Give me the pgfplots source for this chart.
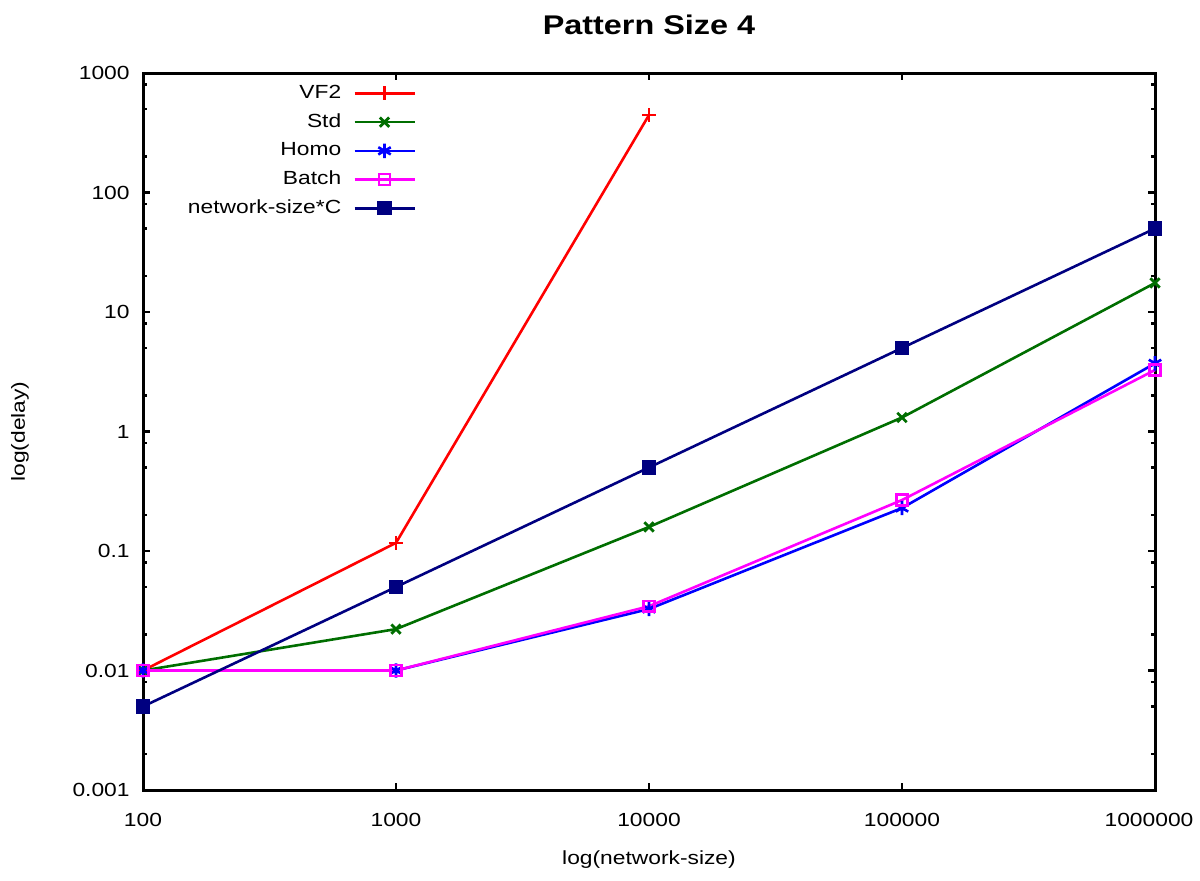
\documentclass[border=0pt]{standalone}
\usepackage{pgfplots}
\pgfplotsset{compat=1.18}
\usepackage{fontspec}
\setmainfont{Liberation Sans}[FakeStretch=1.2]
\definecolor{stdgreen}{RGB}{0,110,0}
\definecolor{navyc}{RGB}{0,0,128}
\definecolor{magc}{RGB}{255,0,255}
\definecolor{bluec}{RGB}{0,0,255}
\definecolor{redc}{RGB}{255,0,0}
\begin{document}
\begin{tikzpicture}
\useasboundingbox (0pt,0pt) rectangle (600pt,440pt);
\begin{axis}[
  at={(71.5pt,45pt)}, anchor=south west,
  scale only axis, width=506pt, height=358.5pt,
  xmode=log, ymode=log,
  xmin=100, xmax=1000000, ymin=0.001, ymax=1000,
  clip=false,
  axis line style={line width=1.5pt},
  xtick={100,1000,10000,100000,1000000},
  xticklabels={100,1000,10000,100000,{\hspace*{-3pt}1000000\hspace*{3pt}}},
  ytick={0.001,0.01,0.1,1,10,100,1000},
  yticklabels={0.001,0.01,0.1,1,10,100,1000},
  xminorticks=false,
  minor ytick={0.002,0.005,0.008,0.02,0.05,0.08,0.2,0.5,0.8,2,5,8,20,50,80,200,500,800},
  tick align=inside,
  major tick length=3.5pt, minor tick length=2pt,
  every tick/.style={line width=1.1pt, black},
  /pgf/number format/assume math mode=true,
  tick label style={font=\fontsize{9.5}{11}\selectfont},
  xticklabel style={anchor=center, inner sep=0pt, yshift=-15pt},
  yticklabel style={anchor=east, inner sep=0pt, xshift=-6.5pt},
  title={\fontsize{13.5}{16}\selectfont\bfseries Pattern Size 4},
  title style={at={(axis description cs:0.5,1.05)}, anchor=center},
  xlabel={log(network-size)},
  ylabel={log(delay)},
  label style={font=\fontsize{9.5}{11}\selectfont},
  xlabel style={at={(axis description cs:0.5,-0.0976)}, anchor=center},
  ylabel style={at={(axis description cs:-0.1215,0.5)}, anchor=center},
  legend cell align=right,
  legend plot pos=right,
  legend style={draw=none, fill=none, inner sep=0pt,
    at={(axis description cs:0.270,0.9916)}, anchor=north east,
    font=\fontsize{9.5}{11}\selectfont, row sep=0.35pt, column sep=3.5pt,
    nodes={text height=7pt, text depth=2pt, inner sep=2.5pt}},
  legend image code/.code={\draw[mark repeat=2, mark phase=2] plot coordinates {(0pt,0pt)(15pt,0pt)(30pt,0pt)};},
]
\addplot[redc, line width=1.3pt, mark=+, mark size=3.5pt, mark options={line width=1.3pt}]
  coordinates {(100,0.01)(1000,0.117)(10000,445)};
\addlegendentry{VF2}
\addplot[stdgreen, line width=1.3pt, mark=x, mark size=3.3pt, mark options={line width=1.4pt}]
  coordinates {(100,0.01)(1000,0.0222)(10000,0.159)(100000,1.31)(1000000,17.5)};
\addlegendentry{Std}
\addplot[bluec, line width=1.3pt, mark=asterisk, mark size=3.6pt, mark options={line width=1.3pt}]
  coordinates {(100,0.01)(1000,0.01)(10000,0.0327)(100000,0.229)(1000000,3.72)};
\addlegendentry{Homo}
\addplot[magc, line width=1.3pt, mark=square, mark size=2.7pt, mark options={line width=1.3pt}]
  coordinates {(100,0.01)(1000,0.01)(10000,0.0345)(100000,0.267)(1000000,3.27)};
\addlegendentry{Batch}
\addplot[navyc, line width=1.3pt, mark=square*, mark size=3.3pt, mark options={line width=0.5pt}]
  coordinates {(100,0.005)(1000,0.05)(10000,0.5)(100000,5)(1000000,50)};
\addlegendentry{network-size*C}
\end{axis}
\end{tikzpicture}
\end{document}
